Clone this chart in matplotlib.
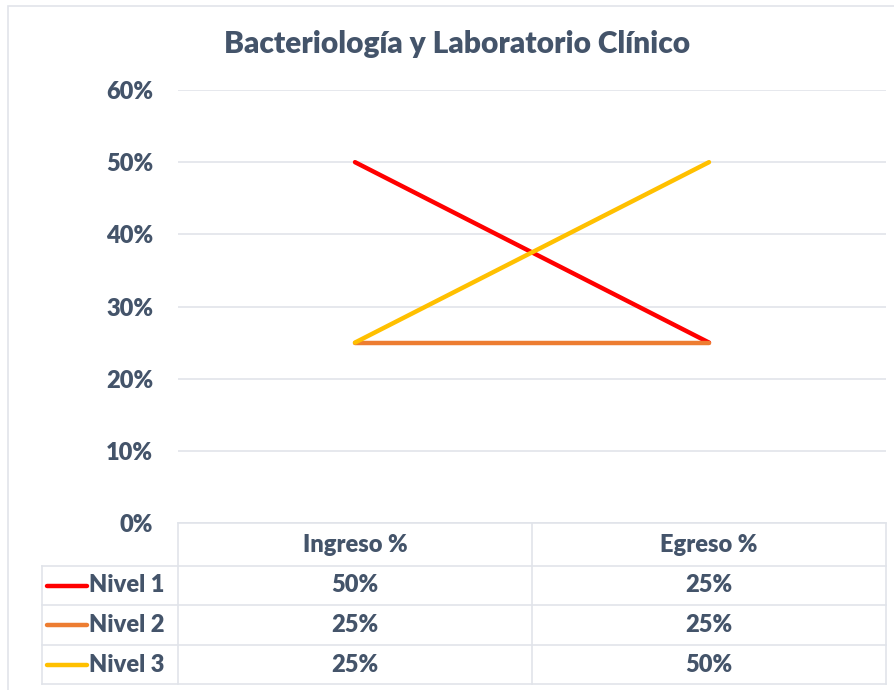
#!/usr/bin/env python3

"""."""
import matplotlib
matplotlib.use('Agg')
from matplotlib import pyplot as plt
from matplotlib.lines import Line2D
from matplotlib.patches import Rectangle
from matplotlib.ticker import PercentFormatter


title = 'Bacteriología y Laboratorio Clínico'
categories = ['Ingreso %', 'Egreso %']
series_names = ['Nivel 1', 'Nivel 2', 'Nivel 3']
nivel_1 = [0.50, 0.25]
nivel_2 = [0.25, 0.25]
nivel_3 = [0.25, 0.50]
series_values = [nivel_1, nivel_2, nivel_3]
colors = ['#FF0000', '#ED7D31', '#FFC000']

TXT = '#44546A'
GRID = '#E1E4EA'
W, H = 895, 690
FS = 17
WEIGHT = 'heavy'

plt.rcParams['font.family'] = ['Lato', 'DejaVu Sans']


def px(x, y):
    """Pixel coordinates (top-left origin) -> figure fraction."""
    return x / W, 1 - y / H


fig = plt.figure(figsize=(W / 100, H / 100), dpi=100)

# chart border (runs off the right and bottom edges)
fig.add_artist(Rectangle((8 / W, -0.1), 1.0, 1 - 6 / H + 0.1,
                         transform=fig.transFigure, fill=False, ec=GRID, lw=1.2))

# plot area
x0, x1, ytop, ybot = 178, 886, 90, 523
ax = fig.add_axes([x0 / W, 1 - ybot / H, (x1 - x0) / W, (ybot - ytop) / H])
xs = list(range(len(categories)))
for name, vals, col in zip(series_names, series_values, colors):
    ax.plot(xs, vals, color=col, lw=3.2, solid_capstyle='round', label=name)
ax.set_xlim(-0.5, len(categories) - 0.5)
ax.set_ylim(0, 0.6)
ax.set_yticks([i / 10 for i in range(7)])
ax.yaxis.set_major_formatter(PercentFormatter(1.0, decimals=0))
ax.grid(axis='y', color=GRID, lw=1.2)
ax.set_axisbelow(True)
ax.set_xticks([])
for s in ax.spines.values():
    s.set_visible(False)
ax.tick_params(axis='y', length=0, pad=18, labelsize=FS, labelcolor=TXT)
for lab in ax.get_yticklabels():
    lab.set_fontweight(WEIGHT)

fig.text(*px(457, 44), title, ha='center', va='center', fontsize=21.5,
         fontweight=WEIGHT, color=TXT)

# data table
col_edges = [x0 + i * (x1 - x0) / len(categories) for i in range(len(categories) + 1)]
row_edges = [523, 566, 605, 645, 684]
left = 42


def hline(xa, xb, y):
    fig.add_artist(Line2D([px(xa, y)[0], px(xb, y)[0]], [px(xa, y)[1]] * 2,
                          color=GRID, lw=1.2))


def vline(x, ya, yb):
    fig.add_artist(Line2D([px(x, ya)[0]] * 2, [px(x, ya)[1], px(x, yb)[1]],
                          color=GRID, lw=1.2))


hline(x0, x1, row_edges[0])
for y in row_edges[1:]:
    hline(left, x1, y)
vline(left, row_edges[1], row_edges[-1])
for x in col_edges:
    vline(x, row_edges[0], row_edges[-1])

for j, cat in enumerate(categories):
    cx = (col_edges[j] + col_edges[j + 1]) / 2
    fig.text(*px(cx, (row_edges[0] + row_edges[1]) / 2 + 1), cat, ha='center',
             va='center', fontsize=FS, fontweight=WEIGHT, color=TXT)

for i, (name, vals, col) in enumerate(zip(series_names, series_values, colors)):
    cy = (row_edges[i + 1] + row_edges[i + 2]) / 2
    fig.add_artist(Line2D([px(47, cy)[0], px(87, cy)[0]], [px(47, cy)[1]] * 2,
                          color=col, lw=3.2, solid_capstyle='round'))
    fig.text(*px(89, cy), name, ha='left', va='center', fontsize=FS,
             fontweight=WEIGHT, color=TXT)
    for j, v in enumerate(vals):
        cx = (col_edges[j] + col_edges[j + 1]) / 2
        fig.text(*px(cx, cy), '{:.0f}%'.format(v * 100), ha='center',
                 va='center', fontsize=FS, fontweight=WEIGHT, color=TXT)

fig.savefig('out.png', dpi=100)
